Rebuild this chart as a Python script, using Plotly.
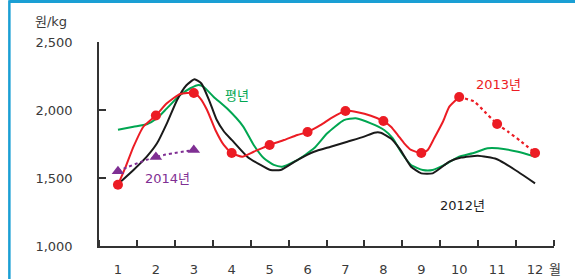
import plotly.graph_objects as go

months = list(range(1, 13))
month_labels = [str(m) for m in months]

# 2013 (red) - sub-monthly trace, solid part Jan..Oct
r13_x = [1.0, 1.2, 1.41, 1.67, 2.0, 2.29, 2.64, 3.0, 3.17, 3.35, 3.57, 3.79, 4.0, 4.28, 4.58,
         5.0, 5.38, 5.73, 6.0, 6.35, 6.61, 7.0, 7.32, 7.67, 8.0, 8.2, 8.38, 8.55, 8.73,
         9.0, 9.17, 9.34, 9.57, 9.74, 10.0]
r13_y = [1450, 1580, 1730, 1877, 1960, 2049, 2118, 2125, 2086, 2000, 1853, 1743, 1684, 1657, 1693,
         1743, 1779, 1816, 1838, 1890, 1939, 1993, 1983, 1958, 1919, 1877, 1816, 1755, 1706,
         1684, 1706, 1792, 1914, 2025, 2096]
# 2013 dashed part Oct..Dec
r13d_x = [10.0, 10.4, 10.67, 11.0, 11.29, 11.64, 12.0]
r13d_y = [2096, 2061, 1988, 1897, 1840, 1767, 1684]
# 2013 monthly markers
r13_month = [1450, 1960, 2125, 1684, 1743, 1838, 1993, 1919, 1684, 2096, 1897, 1684]

# 평년 (green)
avg_x = [1.0, 1.41, 1.76, 2.03, 2.29, 2.64, 2.91, 3.13, 3.26, 3.52, 3.9, 4.3, 4.58, 4.85,
         5.11, 5.33, 5.73, 6.17, 6.52, 6.96, 7.27, 7.67, 8.02, 8.25, 8.46, 8.73, 9.04, 9.3,
         9.61, 9.96, 10.4, 10.75, 11.02, 11.55, 12.0]
avg_y = [1855, 1877, 1895, 1939, 2012, 2110, 2160, 2184, 2171, 2098, 2005, 1880, 1743, 1645,
         1596, 1583, 1632, 1718, 1829, 1926, 1939, 1902, 1853, 1792, 1693, 1596, 1559, 1559,
         1596, 1652, 1686, 1718, 1718, 1693, 1657]

# 2012 (black)
b12_x = [1.0, 1.41, 1.76, 2.03, 2.29, 2.56, 2.8, 3.02, 3.2, 3.4, 3.6, 3.8, 4.0, 4.41,
         4.76, 5.02, 5.29, 5.73, 6.17, 6.61, 7.05, 7.49, 7.76, 7.93, 8.2, 8.44, 8.73, 9.0,
         9.3, 9.74, 10.05, 10.49, 10.98, 11.2, 11.55, 12.0]
b12_y = [1455, 1559, 1657, 1755, 1902, 2074, 2180, 2226, 2195, 2075, 1930, 1840, 1780, 1657,
         1596, 1559, 1559, 1632, 1693, 1730, 1767, 1804, 1833, 1833, 1790, 1710, 1583, 1534,
         1534, 1620, 1650, 1664, 1640, 1608, 1546, 1461]

# 2014 (purple)
p14_x = [1, 2, 3]
p14_y = [1550, 1655, 1705]

RED = "#ec1c24"
GREEN = "#00a651"
BLACK = "#1a1a1a"
PURPLE = "#7f2f93"
BLUE = "#1a9fd4"
FONT = "DejaVu Sans, Noto Sans CJK KR, sans-serif"
TXT = "#3a3a3a"

fig = go.Figure()
fig.add_trace(go.Scatter(x=avg_x, y=avg_y, mode="lines",
                         line=dict(color=GREEN, width=2, shape="spline", smoothing=0.5)))
fig.add_trace(go.Scatter(x=b12_x, y=b12_y, mode="lines",
                         line=dict(color=BLACK, width=2, shape="spline", smoothing=0.5)))
fig.add_trace(go.Scatter(x=r13_x, y=r13_y, mode="lines",
                         line=dict(color=RED, width=2, shape="spline", smoothing=0.5)))
fig.add_trace(go.Scatter(x=r13d_x, y=r13d_y, mode="lines",
                         line=dict(color=RED, width=2.2, dash="dot", shape="spline", smoothing=0.5)))
fig.add_trace(go.Scatter(x=months, y=r13_month, mode="markers",
                         marker=dict(color=RED, size=10, symbol="circle")))
fig.add_trace(go.Scatter(x=p14_x, y=p14_y, mode="lines+markers",
                         line=dict(color=PURPLE, width=2, dash="dot", shape="spline", smoothing=1),
                         marker=dict(color=PURPLE, size=11, symbol="triangle-up")))

ann_font = dict(family=FONT, size=13)
fig.add_annotation(x=4.15, y=2103, text="평년", showarrow=False, font=dict(ann_font, color=GREEN))
fig.add_annotation(x=11.03, y=2184, text="2013년", showarrow=False, font=dict(ann_font, color=RED))
fig.add_annotation(x=10.08, y=1301, text="2012년", showarrow=False, font=dict(ann_font, color="#222"))
fig.add_annotation(x=2.3, y=1500, text="2014년", showarrow=False, font=dict(ann_font, color=PURPLE))
fig.add_annotation(xref="paper", yref="paper", x=-0.105, y=1.10, xanchor="center", yanchor="middle",
                   text="원/kg", showarrow=False, font=dict(ann_font, color=TXT))
fig.add_annotation(xref="paper", yref="paper", x=0.985, y=-0.113, xanchor="left", yanchor="middle",
                   text="월", showarrow=False, font=dict(ann_font, color=TXT))

# frame (blue border on top and left)
fig.add_shape(type="line", xref="paper", yref="paper", x0=-0.197, x1=1.1, y0=1.198, y1=1.198,
              line=dict(color=BLUE, width=3))
fig.add_shape(type="line", xref="paper", yref="paper", x0=-0.197, x1=-0.197, y0=-0.2, y1=1.205,
              line=dict(color=BLUE, width=2.5))

fig.update_layout(
    width=575, height=279,
    margin=dict(l=99, r=21, t=42, b=33, autoexpand=False),
    paper_bgcolor="white", plot_bgcolor="white",
    showlegend=False,
    font=dict(family=FONT, size=13, color=TXT),
    xaxis=dict(range=[0.5, 12.5], tickvals=months, ticktext=month_labels, ticks="",
               showgrid=False, zeroline=False, showline=True, linecolor="#333", linewidth=1.5,
               ticklabelstandoff=11, automargin=False,
               minor=dict(tick0=0.5, dtick=1, ticks="inside", ticklen=6, tickcolor="#333",
                          tickwidth=1.5, showgrid=False)),
    yaxis=dict(range=[1000, 2500], tickvals=[1000, 1500, 2000, 2500], tickformat=",",
               ticks="inside", ticklen=7, tickcolor="#333", tickwidth=1.5,
               showgrid=False, zeroline=False, showline=True, linecolor="#333", linewidth=1.5,
               ticklabelstandoff=22, automargin=False),
)

fig.write_html("out.html", config={"displayModeBar": False},
               post_script="document.body.style.margin='0';")
